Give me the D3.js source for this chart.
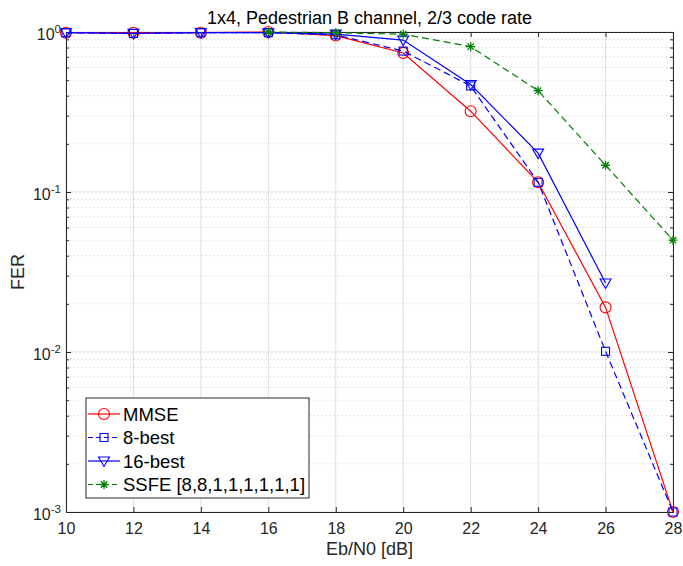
<!DOCTYPE html>
<html>
<head>
<meta charset="utf-8">
<script src="https://cdn.jsdelivr.net/npm/d3@7"></script>
<style>
  body { margin: 0; background: #fff; }
  svg { display: block; font-family: "Liberation Sans", Arial, Helvetica, sans-serif; }
</style>
</head>
<body>
<svg id="chart" width="683" height="566"></svg>
<script>
// Eb/N0 operating points (dB)
const ebn0 = [10, 12, 14, 16, 18, 20, 22, 24, 26, 28];
const ebn0Ssfe = [16, 18, 20, 22, 24, 26, 28];
const ebn0Best16 = [10, 12, 14, 16, 18, 20, 22, 24, 26];

// Frame error rates per detector
const ferMmse = [0.99, 0.99, 0.99, 1.0, 0.95, 0.74, 0.32, 0.115, 0.019, 0.001];
const ferBest8 = [0.99, 0.98, 0.99, 0.99, 0.96, 0.76, 0.46, 0.115, 0.0101, 0.001];
const ferBest16 = [0.99, 0.98, 0.99, 0.99, 0.97, 0.89, 0.47, 0.175, 0.027];
const ferSsfe = [1.0, 0.99, 0.97, 0.81, 0.43, 0.147, 0.05];

const xTicks = [10, 12, 14, 16, 18, 20, 22, 24, 26, 28];
const yDecades = [0, -1, -2, -3];

const seriesNames = ["MMSE", "8-best", "16-best", "SSFE [8,8,1,1,1,1,1,1]"];

const series = [
  { name: seriesNames[0], x: ebn0, y: ferMmse, color: "#ff0000", dash: null, marker: "circle" },
  { name: seriesNames[1], x: ebn0, y: ferBest8, color: "#0000ff", dash: "7,4", marker: "square" },
  { name: seriesNames[2], x: ebn0Best16, y: ferBest16, color: "#0000ff", dash: null, marker: "triangle" },
  { name: seriesNames[3], x: ebn0Ssfe, y: ferSsfe, color: "#008000", dash: "7,4", marker: "star" }
];

const W = 683, H = 566;
const margin = { left: 66, right: 10, top: 32, bottom: 54 };
const pw = W - margin.left - margin.right;
const ph = H - margin.top - margin.bottom;

const svg = d3.select("#chart");
const g = svg.append("g").attr("transform", `translate(${margin.left},${margin.top})`);

const x = d3.scaleLinear().domain([10, 28]).range([0, pw]);
const y = d3.scaleLog().domain([1e-3, 1]).range([ph, 0]);

const axisColor = "#262626";
const gridColor = "#dfdfdf";

// minor decade values for dotted grid and small ticks
const minorVals = [];
for (let d = -3; d < 0; d++) for (let m = 2; m <= 9; m++) minorVals.push(m * Math.pow(10, d));

g.append("g").selectAll("line").data(minorVals).join("line")
  .attr("x1", 0).attr("x2", pw)
  .attr("y1", d => y(d)).attr("y2", d => y(d))
  .attr("stroke", "#c8c8c8").attr("stroke-width", 1)
  .attr("stroke-dasharray", "1,3");

// major grid
g.append("g").selectAll("line").data(xTicks).join("line")
  .attr("x1", d => x(d)).attr("x2", d => x(d))
  .attr("y1", 0).attr("y2", ph)
  .attr("stroke", gridColor).attr("stroke-width", 1);
g.append("g").selectAll("line").data(yDecades).join("line")
  .attr("x1", 0).attr("x2", pw)
  .attr("y1", d => y(Math.pow(10, d))).attr("y2", d => y(Math.pow(10, d)))
  .attr("stroke", gridColor).attr("stroke-width", 1);

// boxed axes with inward ticks
const xAxisB = d3.axisBottom(x).tickValues(xTicks).tickSizeInner(-5).tickSizeOuter(0).tickPadding(11);
const xAxisT = d3.axisTop(x).tickValues(xTicks).tickSizeInner(-5).tickSizeOuter(0).tickFormat("");
const yAxisL = d3.axisLeft(y).tickValues(yDecades.map(d => Math.pow(10, d))).tickSizeInner(-5).tickSizeOuter(0).tickFormat("");
const yAxisR = d3.axisRight(y).tickValues(yDecades.map(d => Math.pow(10, d))).tickSizeInner(-5).tickSizeOuter(0).tickFormat("");
const yMinorL = d3.axisLeft(y).tickValues(minorVals).tickSizeInner(-3).tickSizeOuter(0).tickFormat("");
const yMinorR = d3.axisRight(y).tickValues(minorVals).tickSizeInner(-3).tickSizeOuter(0).tickFormat("");

function styleAxis(sel) {
  sel.selectAll("path").attr("stroke", axisColor).attr("stroke-width", 1);
  sel.selectAll("line").attr("stroke", axisColor).attr("stroke-width", 1);
  sel.selectAll("text").attr("fill", axisColor).attr("font-size", 16)
    .attr("font-family", "'Liberation Sans', Arial, sans-serif");
}

g.append("g").attr("transform", `translate(0,${ph})`).call(xAxisB).call(styleAxis);
g.append("g").call(xAxisT).call(styleAxis);
g.append("g").call(yAxisL).call(styleAxis);
g.append("g").attr("transform", `translate(${pw},0)`).call(yAxisR).call(styleAxis);
g.append("g").call(yMinorL).call(styleAxis);
g.append("g").attr("transform", `translate(${pw},0)`).call(yMinorR).call(styleAxis);

// y tick labels written as 10^n
const yLab = g.append("g");
yDecades.forEach(d => {
  const t = yLab.append("text")
    .attr("x", -5).attr("y", y(Math.pow(10, d)) + 8)
    .attr("text-anchor", "end")
    .attr("fill", axisColor).attr("font-size", 16);
  t.append("tspan").text("10");
  t.append("tspan").attr("dy", -7).attr("font-size", 11.5).text(String(d));
});

// marker glyphs
function drawMarker(sel, type, color) {
  if (type === "circle") {
    sel.append("circle").attr("r", 5.5).attr("fill", "none").attr("stroke", color).attr("stroke-width", 1.1);
  } else if (type === "square") {
    sel.append("rect").attr("x", -4).attr("y", -4).attr("width", 8).attr("height", 8)
      .attr("fill", "none").attr("stroke", color).attr("stroke-width", 1.1);
  } else if (type === "triangle") {
    sel.append("path").attr("d", "M-5.5,-4 L5.5,-4 L0,5.5 Z")
      .attr("fill", "none").attr("stroke", color).attr("stroke-width", 1.1);
  } else if (type === "star") {
    const s = 4.5, k = s * 0.72;
    sel.append("path")
      .attr("d", `M${-s},0L${s},0M0,${-s}L0,${s}M${-k},${-k}L${k},${k}M${-k},${k}L${k},${-k}`)
      .attr("stroke", color).attr("stroke-width", 1.3).attr("fill", "none");
  }
}

const line = d3.line().x(d => x(d[0])).y(d => y(d[1]));

series.forEach(s => {
  const pts = s.x.map((xv, i) => [xv, s.y[i]]);
  g.append("path").datum(pts)
    .attr("d", line)
    .attr("fill", "none").attr("stroke", s.color).attr("stroke-width", 1.2)
    .attr("stroke-dasharray", s.dash);
  pts.forEach(p => {
    const m = g.append("g").attr("transform", `translate(${x(p[0])},${y(p[1])})`);
    drawMarker(m, s.marker, s.color);
  });
});

// title and axis labels
svg.append("text").attr("x", margin.left + pw / 2).attr("y", 24)
  .attr("text-anchor", "middle").attr("font-size", 18).attr("fill", "#000")
  .text("1x4, Pedestrian B channel, 2/3 code rate");
svg.append("text").attr("x", margin.left + pw / 2).attr("y", 555)
  .attr("text-anchor", "middle").attr("font-size", 18).attr("fill", axisColor)
  .text("Eb/N0 [dB]");
svg.append("text").attr("transform", `translate(24,${margin.top + ph / 2}) rotate(-90)`)
  .attr("text-anchor", "middle").attr("font-size", 18).attr("fill", axisColor)
  .text("FER");

// legend
const lg = svg.append("g").attr("transform", "translate(86,398)");
lg.append("rect").attr("width", 223).attr("height", 100)
  .attr("fill", "#fff").attr("stroke", axisColor).attr("stroke-width", 1);
series.forEach((s, i) => {
  const yy = 16 + i * 23.5;
  const row = lg.append("g").attr("transform", `translate(0,${yy})`);
  row.append("line").attr("x1", 2).attr("x2", 34).attr("y1", 0).attr("y2", 0)
    .attr("stroke", s.color).attr("stroke-width", 1.2)
    .attr("stroke-dasharray", s.dash ? "5,3" : null);
  const mk = row.append("g").attr("transform", "translate(18,0)");
  drawMarker(mk, s.marker, s.color);
  row.append("text").attr("x", 37).attr("y", 6.5).attr("font-size", 18.5).attr("fill", "#000")
    .text(s.name);
});
</script>
</body>
</html>
